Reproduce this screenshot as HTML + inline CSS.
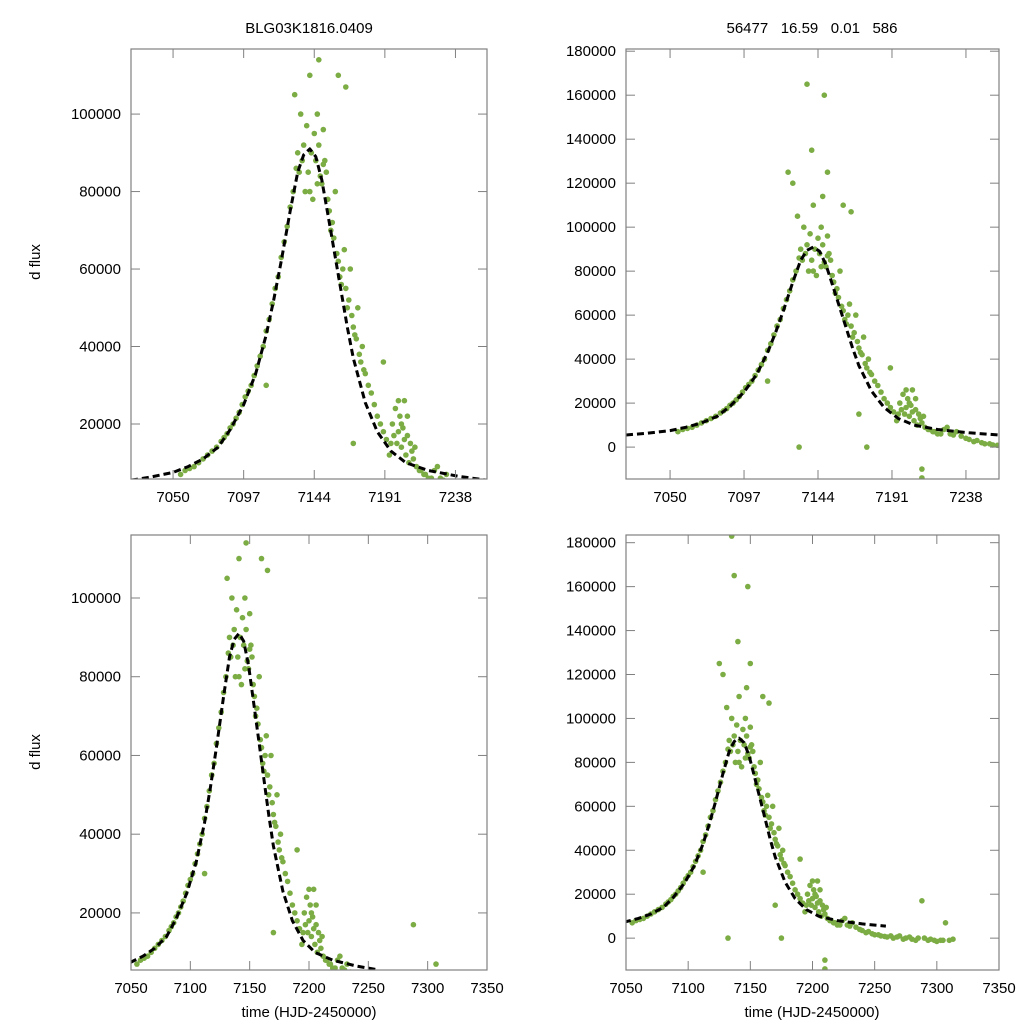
<!DOCTYPE html>
<html><head><meta charset="utf-8"><style>
body{margin:0;background:#fff;}
svg{display:block;font-family:"Liberation Sans",sans-serif;}
</style></head><body>
<svg id="chart" width="1024" height="1024" viewBox="0 0 1024 1024" xmlns="http://www.w3.org/2000/svg">
<rect width="1024" height="1024" fill="#fff"/>
<text x="309" y="33" font-size="15" text-anchor="middle">BLG03K1816.0409</text>
<text x="812" y="33" font-size="15" text-anchor="middle" xml:space="preserve">56477   16.59   0.01   586</text>
<text transform="translate(40,262) rotate(-90)" font-size="15" text-anchor="middle">d flux</text>
<text transform="translate(40,752) rotate(-90)" font-size="15" text-anchor="middle">d flux</text>
<text x="309" y="1017" font-size="15" text-anchor="middle">time (HJD-2450000)</text>
<text x="812" y="1017" font-size="15" text-anchor="middle">time (HJD-2450000)</text>
</svg>
<script>
// observed data: time, flux (aligned in rows of 10)
const obsT = [
7055,7058,7061,7064,7067,7070,7073,7076,7079,7082,
7084,7086,7088,7090,7092,7094,7096,7098,7100,7102,
7104,7106,7108,7110,7112,7114,7116,7118,7120,7122,
7124,7126,7128,7130,7131,7132,7133,7134,7135,7136,
7137,7138,7139,7140,7141,7141,7142,7143,7144,7145,
7146,7146,7147,7147,7148,7149,7150,7150,7151,7152,
7153,7154,7155,7156,7157,7158,7159,7160,7161,7162,
7163,7164,7165,7166,7167,7168,7169,7170,7171,7172,
7173,7174,7175,7176,7177,7178,7180,7182,7184,7186,
7188,7190,7192,7194,7195,7196,7197,7198,7199,7200,
7200,7201,7202,7202,7203,7204,7204,7205,7206,7206,
7207,7208,7209,7210,7211,7212,7214,7215,7217,7218,
7220,7222,7224,7226,7228,7230,7232,7235,7238,7240,
7243,7245,7248,7250,7253,7255,7258,7260,7263,7265,
7268,7270,7273,7275,7278,7280,7283,7285,7288,7290,
7293,7295,7298,7300,7303,7305,7307,7310,7313,7135,
7137,7148,7140,7150,7125,7132,7175,7170,7210,7210,
7165,7128,7160,7118,7190,7112];
const obsF = [
7000,8000,8500,9000,10000,11000,12000,13000,14000,15500,
16500,17500,19000,20000,21500,23000,25000,27000,28500,30000,
32500,35000,37500,40000,44000,47000,51000,55000,58000,63000,
67000,71000,76000,80000,105000,86000,90000,85000,100000,88000,
92000,80000,97000,85000,110000,80000,90000,78000,95000,88000,
100000,82000,114000,92000,84000,82000,96000,87000,88000,85000,
78000,75000,70000,72000,68000,80000,64000,62000,58000,56000,
60000,65000,55000,50000,52000,60000,48000,45000,43000,42000,
50000,38000,36000,40000,34000,33000,30000,28000,25000,22000,
20000,18000,16000,12000,15000,20000,17000,24000,15000,18000,
26000,22000,14000,20000,19000,26000,16000,12000,17000,22000,
10000,15000,13000,11000,14000,9000,8000,8000,7000,7000,
6000,6000,8000,9000,6000,5500,7000,5000,4000,3500,
2500,3000,2000,1500,1500,1000,800,500,1000,0,
500,1000,-500,0,500,-500,-1000,0,17000,0,
-1000,-500,-1000,-1500,-1000,-1000,7000,-1000,-500,183000,
165000,160000,135000,125000,125000,0,0,15000,-14000,-10000,
107000,120000,110000,55000,36000,30000];
// model curve: time, flux
const modT = [7022,7035,7050,7060,7070,7080,7088,7097,7105,7112,7117,7122,7128,7133,7137,7141,7145,7149,7154,7158,7162,7166,7170,7178,7186,7195,7205,7220,7240,7259];
const modF = [5500,6300,7500,9000,11000,14000,18500,25000,33000,43000,52000,62000,75000,85000,89500,91000,89000,83000,72000,63000,54000,45000,37000,25500,18000,13000,10000,8000,6500,5500];

const panels = [
 {name:'top-left', x0:131,x1:487,y0:49,y1:479, tmin:7022,tmax:7259, fmin:5800,fmax:116800, xt:[7050,7097,7144,7191,7238], yt:[20000,40000,60000,80000,100000]},
 {name:'top-right', x0:626,x1:999,y0:49,y1:479, tmin:7022,tmax:7259, fmin:-14500,fmax:181000, xt:[7050,7097,7144,7191,7238], yt:[0,20000,40000,60000,80000,100000,120000,140000,160000,180000]},
 {name:'bottom-left', x0:131,x1:487,y0:535,y1:970, tmin:7050,tmax:7350, fmin:5500,fmax:116000, xt:[7050,7100,7150,7200,7250,7300,7350], yt:[20000,40000,60000,80000,100000]},
 {name:'bottom-right', x0:626,x1:999,y0:535,y1:970, tmin:7050,tmax:7350, fmin:-14500,fmax:183500, xt:[7050,7100,7150,7200,7250,7300,7350], yt:[0,20000,40000,60000,80000,100000,120000,140000,160000,180000]}
];
const svg = document.getElementById('chart');
const NS = 'http://www.w3.org/2000/svg';
function mk(tag, attrs, parent){const e=document.createElementNS(NS,tag);for(const k in attrs)e.setAttribute(k,attrs[k]);(parent||svg).appendChild(e);return e;}
panels.forEach((p,pi)=>{
  const sx=t=>p.x0+(t-p.tmin)/(p.tmax-p.tmin)*(p.x1-p.x0);
  const sy=f=>p.y1-(f-p.fmin)/(p.fmax-p.fmin)*(p.y1-p.y0);
  const g=mk('g',{});
  
  
  const cp=mk('clipPath',{id:'clip'+pi},g);
  mk('rect',{x:p.x0,y:p.y0,width:p.x1-p.x0,height:p.y1-p.y0},cp);
  const pts=mk('g',{'clip-path':'url(#clip'+pi+')',fill:'#7cac44'},g);
  
  
  const n=Math.min(obsT.length,obsF.length);
  for(let i=0;i<n;i++){
    const c=mk('circle',{cx:sx(obsT[i]).toFixed(1),cy:sy(obsF[i]).toFixed(1),r:2.8},pts);
    
    
  }
  let d='';
  for(let i=0;i<modT.length;i++){d+=(i?'L':'M')+sx(modT[i]).toFixed(1)+','+sy(modF[i]).toFixed(1);}
  const ml=mk('path',{d:d,fill:'none',stroke:'#000','stroke-width':3,'stroke-dasharray':'7,4','stroke-linejoin':'round','clip-path':'url(#clip'+pi+')'},g);
  
  
  const fr=mk('rect',{x:p.x0,y:p.y0,width:p.x1-p.x0,height:p.y1-p.y0,fill:'none',stroke:'#808080','stroke-width':1.2},g);
  
  
  p.xt.forEach(t=>{
    const x=sx(t);
    mk('line',{x1:x,x2:x,y1:p.y1,y2:p.y1-9,stroke:'#808080'},g);
    mk('line',{x1:x,x2:x,y1:p.y0,y2:p.y0+9,stroke:'#808080'},g);
    const tx=mk('text',{x:x,y:p.y1+23,'font-size':15,'text-anchor':'middle'},g);
    tx.textContent=t;
    
    
  });
  p.yt.forEach(f=>{
    const y=sy(f);
    mk('line',{x1:p.x0,x2:p.x0+9,y1:y,y2:y,stroke:'#808080'},g);
    mk('line',{x1:p.x1,x2:p.x1-9,y1:y,y2:y,stroke:'#808080'},g);
    const tx=mk('text',{x:p.x0-10,y:y+5,'font-size':15,'text-anchor':'end'},g);
    tx.textContent=f;
    
    
  });
});
</script>
</body></html>
